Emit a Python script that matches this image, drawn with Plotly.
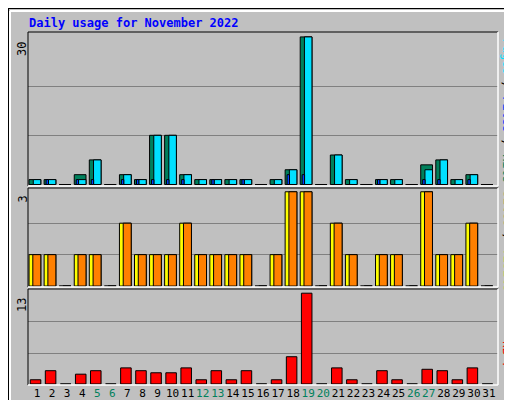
import plotly.graph_objects as go
from plotly.subplots import make_subplots

days = list(range(1, 32))
hits = [1, 1, 0, 1, 5, 0, 2, 1, 10, 10, 2, 1, 1, 1, 1, 0, 1, 3, 30, 0, 6, 1, 0, 1, 1, 0, 3, 5, 1, 2, 0]
files = [1, 1, 0, 2, 5, 0, 2, 1, 10, 10, 2, 1, 1, 1, 1, 0, 1, 3, 30, 0, 6, 1, 0, 1, 1, 0, 4, 5, 1, 2, 0]
pages = [0, 1, 0, 1, 1, 0, 1, 1, 1, 1, 1, 0, 1, 0, 1, 0, 0, 2, 2, 0, 0, 0, 0, 1, 0, 0, 1, 1, 0, 1, 0]
visits = [1, 1, 0, 1, 1, 0, 2, 1, 1, 1, 2, 1, 1, 1, 1, 0, 1, 3, 3, 0, 2, 1, 0, 1, 1, 0, 3, 1, 1, 2, 0]
sites = [1, 1, 0, 1, 1, 0, 2, 1, 1, 1, 2, 1, 1, 1, 1, 0, 1, 3, 3, 0, 2, 1, 0, 1, 1, 0, 3, 1, 1, 2, 0]
kbytes = [0.6, 1.9, 0, 1.4, 1.9, 0, 2.3, 1.9, 1.6, 1.6, 2.3, 0.6, 1.9, 0.6, 1.9, 0, 0.6, 3.9, 13, 0,
          2.3, 0.6, 0, 1.9, 0.6, 0, 2.1, 1.9, 0.6, 2.3, 0]
weekend = [5, 6, 12, 13, 19, 20, 26, 27]

BG = "#C0C0C0"
MONO = "DejaVu Sans Mono"

fig = make_subplots(rows=3, cols=1, shared_xaxes=True, vertical_spacing=0)

def bars(y, color, offset, width, row):
    fig.add_trace(go.Bar(x=days, y=y, offset=offset, width=width, marker_color=color,
                         marker_line=dict(color="black", width=1)), row=row, col=1)

bars(files, "#00805C", -0.53, 0.78, 1)
bars(hits, "#00E0FF", -0.25, 0.5, 1)
bars(pages, "#0040FF", -0.4, 0.16, 1)
bars(visits, "#FFFF00", -0.53, 0.78, 2)
bars(sites, "#FF8000", -0.28, 0.53, 2)
bars(kbytes, "#FF0000", -0.45, 0.7, 3)

ticktext = [f'<span style="color:#00805C">{d}</span>' if d in weekend else str(d) for d in days]

fig.update_layout(
    width=512, height=400, margin=dict(l=0, r=0, t=0, b=0),
    paper_bgcolor=BG, plot_bgcolor=BG, showlegend=False, barmode="overlay",
    font=dict(family=MONO, size=12, color="black"),
)
fig.update_xaxes(domain=[20/512, 490/512], range=[0.4, 31.6], showgrid=False, zeroline=False,
                 showticklabels=False, automargin=False)
fig.update_xaxes(showticklabels=True, tickvals=days, ticktext=ticktext, ticks="", tickangle=0,
                 tickfont=dict(size=11, family=MONO), row=3, col=1)
fig.update_yaxes(showticklabels=False, zeroline=False, gridcolor="#808080", gridwidth=1, automargin=False)
fig.update_yaxes(domain=[1-178/400, 1-24/400], range=[-0.3, 31.0], tickvals=[10, 20], row=1, col=1)
fig.update_yaxes(domain=[1-279/400, 1-180/400], range=[-0.03, 3.12], tickvals=[1, 2], row=2, col=1)
fig.update_yaxes(domain=[1-377/400, 1-281/400], range=[-0.15, 13.6], tickvals=[4.3, 9], row=3, col=1)

fig.add_annotation(text="<b>Daily usage for November 2022</b>", x=19/512, y=1-15/400, xref="paper", yref="paper",
                   xanchor="left", yanchor="middle", showarrow=False, font=dict(color="#0000FF", size=12, family=MONO))

for txt, ypix in [("30", 32), ("3", 186), ("13", 288)]:
    fig.add_annotation(text=txt, x=14/512, y=1-ypix/400, xref="paper", yref="paper", textangle=-90,
                       xanchor="center", yanchor="top", showarrow=False, font=dict(size=12, family=MONO))

right = [
    ('<span style="color:#00E0FF">Pages</span> / <span style="color:#0040FF">Files</span> / '
     '<span style="color:#00805C">Hits</span>', 28),
    ('<span style="color:#FF8000">Sites</span> / <span style="color:#FFFF00">Visits</span>', 180),
    ('<span style="color:#FF0000">kB F</span>', 330),
]
for txt, ypix in right:
    fig.add_annotation(text=txt, x=499/512, y=1-ypix/400, xref="paper", yref="paper", textangle=90,
                       xanchor="center", yanchor="top", showarrow=False, font=dict(size=12, family=MONO))

shapes = []
for top, bot in [(24, 178), (180, 279), (281, 377)]:
    x0, x1, y0, y1 = 20/512, 490/512, 1-bot/400, 1-top/400
    shapes += [
        dict(type="line", x0=x0, x1=x1, y0=y1, y1=y1, line=dict(color="black", width=1)),
        dict(type="line", x0=x0, x1=x0, y0=y0, y1=y1, line=dict(color="black", width=1)),
        dict(type="line", x0=x0, x1=x1, y0=y0, y1=y0, line=dict(color="white", width=1.5)),
        dict(type="line", x0=x1, x1=x1, y0=y0, y1=y1, line=dict(color="white", width=1.5)),
    ]
shapes += [
    dict(type="rect", x0=0, x1=1, y0=0, y1=1, line=dict(color="black", width=2)),
    dict(type="line", x0=2/512, x1=2/512, y0=4/400, y1=1-3/400, line=dict(color="white", width=2)),
    dict(type="line", x0=2/512, x1=1-4/512, y0=1-3/400, y1=1-3/400, line=dict(color="white", width=2)),
    dict(type="line", x0=2/512, x1=1-3/512, y0=4/400, y1=4/400, line=dict(color="#808080", width=3)),
    dict(type="line", x0=1-4/512, x1=1-4/512, y0=4/400, y1=1-3/400, line=dict(color="#808080", width=3)),
]
fig.update_layout(shapes=[dict(s, xref="paper", yref="paper") for s in shapes])

fig.write_html("out.html")
